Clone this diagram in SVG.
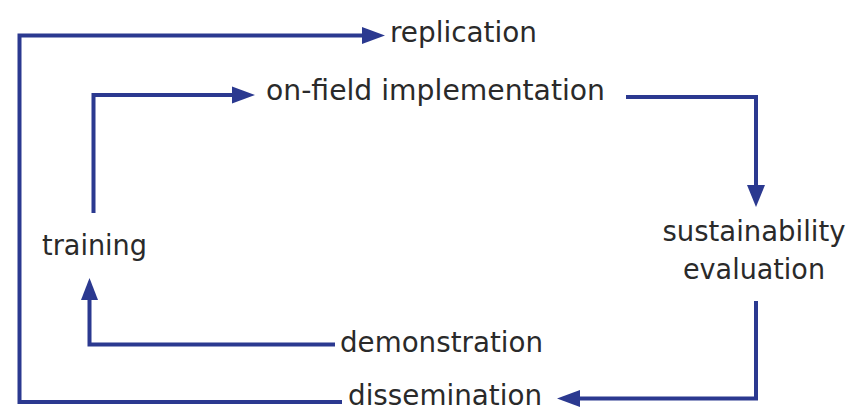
<svg xmlns="http://www.w3.org/2000/svg" width="851" height="411" viewBox="0 0 851 411">
  <style>
    .lbl { font-family: "DejaVu Sans", "Liberation Sans", sans-serif; font-size: 27.5px; fill: #2a2a2a; }
    .ln { fill: none; stroke: #2b3990; stroke-width: 4; stroke-linejoin: miter; stroke-linecap: butt; }
    .ah { fill: #2b3990; }
  </style>
  <rect width="851" height="411" fill="#ffffff"/>
  <g id="connectors">
    <path class="ln" d="M342 402 H19.5 V35.5 H364"/>
    <polygon class="ah" points="385,35.5 362,27 362,44"/>
    <path class="ln" d="M93.5 213 V95 H234"/>
    <polygon class="ah" points="255,95 232,86.5 232,103.5"/>
    <path class="ln" d="M626 97 H756 V187"/>
    <polygon class="ah" points="756,207 747,185 765,185"/>
    <path class="ln" d="M756 301 V398.5 H579"/>
    <polygon class="ah" points="557,398.5 580,390 580,407"/>
    <path class="ln" d="M335 344.5 H89.5 V298"/>
    <polygon class="ah" points="89.5,278 81,300 98,300"/>
  </g>
  <g id="replication"><text class="lbl" x="390" y="42" textLength="147" lengthAdjust="spacingAndGlyphs">replication</text></g>
  <g id="on-field-implementation"><text class="lbl" x="266" y="100" textLength="339" lengthAdjust="spacingAndGlyphs">on-field implementation</text></g>
  <g id="sustainability-evaluation">
    <text class="lbl" x="754" y="241" text-anchor="middle" textLength="183" lengthAdjust="spacingAndGlyphs">sustainability</text>
    <text class="lbl" x="754" y="279" text-anchor="middle" textLength="142" lengthAdjust="spacingAndGlyphs">evaluation</text>
  </g>
  <g id="training"><text class="lbl" x="42" y="255" textLength="105" lengthAdjust="spacingAndGlyphs">training</text></g>
  <g id="demonstration"><text class="lbl" x="340" y="352" textLength="203" lengthAdjust="spacingAndGlyphs">demonstration</text></g>
  <g id="dissemination"><text class="lbl" x="348" y="405" textLength="194" lengthAdjust="spacingAndGlyphs">dissemination</text></g>
</svg>
